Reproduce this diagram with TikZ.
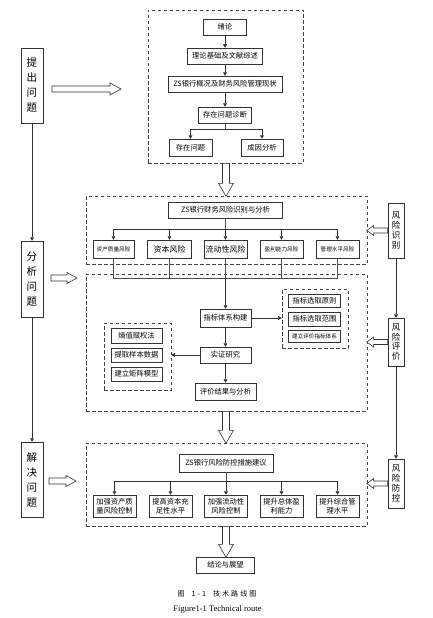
\documentclass[tikz,border=0pt]{standalone}
\usepackage{fontspec}
\newfontfamily\cjk{Noto Sans CJK SC}
\newfontfamily\capcjk[LetterSpace=30]{Noto Sans CJK SC}
\newfontfamily\capfont{Liberation Serif}
\usepackage{tikz}
\usetikzlibrary{arrows.meta, calc}

\tikzset{
  box/.style={draw=black!80, line width=0.5pt, inner sep=0pt, align=center, font=\cjk\fontsize{7.3}{9.3}\selectfont},
  tinybox/.style={box, font=\cjk\fontsize{5.6}{7}\selectfont},
  sidebox/.style={box, minimum width=22, font=\cjk\fontsize{10.5}{15}\selectfont},
  riskbox/.style={box, minimum width=16, font=\cjk\fontsize{8.5}{9.8}\selectfont},
  frame/.style={draw=black!75, dash pattern=on 3.5pt off 2.5pt, line width=0.6pt, inner sep=0pt},
  arr/.style={draw=black!80, line width=0.5pt, -{Triangle[length=3.5pt,width=3.8pt]}},
  link/.style={draw=black!70, line width=0.5pt},
  hollow/.style={draw=black!80, line width=0.6pt, fill=white}
}

% 空心箭头: 起点, 角度, 长度, 杆半宽, 头半宽, 头长
\newcommand{\blockarrow}[6]{%
  \draw[hollow, shift={(#1)}, rotate=#2]
    (0,-#4) -- ({#3-#6},-#4) -- ({#3-#6},-#5) -- (#3,0)
    -- ({#3-#6},#5) -- ({#3-#6},#4) -- (0,#4) -- cycle;}

\begin{document}
\begin{tikzpicture}[x=1pt, y=-1pt]
  \useasboundingbox (0,0) rectangle (432,618);

  % 虚线框
  \node[frame, minimum width=155, minimum height=153] (f1) at (225.5,86.5) {};
  \node[frame, minimum width=281, minimum height=68] (f2) at (226.5,230) {};
  \node[frame, minimum width=281, minimum height=137] (f3) at (226.5,342.5) {};
  \node[frame, minimum width=281, minimum height=83] (f4) at (226.5,484.5) {};

  % 左侧: 提出/分析/解决问题
  \node[sidebox, minimum height=75] (tiwen) at (32,85.5) {提\\出\\问\\题};
  \node[sidebox, minimum height=76] (fenxi) at (32,279) {分\\析\\问\\题};
  \node[sidebox, minimum height=75] (jiejue) at (32,479.5) {解\\决\\问\\题};
  \draw[arr] (tiwen.south) -- (fenxi.north);
  \draw[arr] (fenxi.south) -- (jiejue.north);

  % 右侧: 风险识别/评价/防控
  \node[riskbox, minimum height=55] (fxsb) at (396,230.5) {风\\险\\识\\别};
  \node[riskbox, minimum height=48] (fxpj) at (396,342) {风\\险\\评\\价};
  \node[riskbox, minimum height=49] (fxfk) at (396,483.5) {风\\险\\防\\控};
  \draw[arr] (fxsb.south) -- (fxpj.north);
  \draw[arr] (fxpj.south) -- (fxfk.north);

  % 第一部分
  \node[box, minimum width=43, minimum height=16] (xulun) at (225,27) {绪论};
  \node[box, minimum width=75, minimum height=16] (lilun) at (225,56) {理论基础及文献综述};
  \node[box, minimum width=114, minimum height=16] (gaikuang) at (225,84) {ZS银行概况及财务风险管理现状};
  \node[box, minimum width=53, minimum height=16] (zhenduan) at (225,115) {存在问题诊断};
  \node[box, minimum width=43, minimum height=17] (wenti) at (190.5,147.5) {存在问题};
  \node[box, minimum width=42, minimum height=17] (chengyin) at (262,147.5) {成因分析};
  \draw[arr] (xulun) -- (lilun);
  \draw[arr] (lilun) -- (gaikuang);
  \draw[arr] (gaikuang) -- (zhenduan);
  \coordinate (fork) at (225,129);
  \draw[link] (zhenduan.south) -- (fork);
  \draw[arr] (fork) -| (wenti.north);
  \draw[arr] (fork) -| (chengyin.north);

  % 第二部分: 风险识别
  \node[box, minimum width=114, minimum height=16] (shibie) at (225.5,210) {ZS银行财务风险识别与分析};
  \node[tinybox, minimum width=41, minimum height=18] (r1) at (113.5,249) {资产质量风险};
  \node[box, minimum width=44, minimum height=18, font=\cjk\fontsize{8}{9}\selectfont] (r2) at (169.5,249) {资本风险};
  \node[box, minimum width=43, minimum height=18, font=\cjk\fontsize{8}{9}\selectfont] (r3) at (225.5,249) {流动性风险};
  \node[tinybox, minimum width=43, minimum height=18] (r4) at (281.5,249) {盈利能力风险};
  \node[tinybox, minimum width=43, minimum height=18] (r5) at (337.5,249) {管理水平风险};
  \coordinate (bus1) at (225.5,229);
  \draw[link] (shibie.south) -- (bus1);
  \foreach \n in {r1,r2,r3,r4,r5}
    \draw[arr] (bus1) -| (\n.north);

  % 第三部分: 风险评价
  \coordinate (bus2) at (225.5,278);
  \foreach \n in {r1,r2,r3,r4,r5}
    \draw[link] (\n.south) |- (bus2);
  \node[box, minimum width=51, minimum height=18] (zhibiao) at (225.5,318) {指标体系构建};
  \node[box, minimum width=51, minimum height=16] (shizheng) at (225.5,355) {实证研究};
  \node[box, minimum width=61, minimum height=17] (pingjia) at (225.5,391.5) {评价结果与分析};
  \draw[arr] (bus2) -- (zhibiao.north);
  \draw[arr] (zhibiao) -- (shizheng);
  \draw[arr] (shizheng) -- (pingjia);

  \node[frame, minimum width=66, minimum height=59] (rf) at (315,318.5) {};
  \node[box, minimum width=52, minimum height=13] (yuanze) at (314.5,300.5) {指标选取原则};
  \node[box, minimum width=52, minimum height=14] (fanwei) at (314.5,319) {指标选取范围};
  \node[tinybox, minimum width=52, minimum height=12] (tixi) at (314.5,336) {建立评价指标体系};
  \draw[arr] (zhibiao.east) -- (rf.west |- zhibiao.east);

  \node[frame, minimum width=67, minimum height=67] (lf) at (137.5,356.5) {};
  \node[box, minimum width=51, minimum height=15] (shangzhi) at (136.5,335.5) {熵值赋权法};
  \node[box, minimum width=51, minimum height=14] (yangben) at (136.5,355) {提取样本数据};
  \node[box, minimum width=51, minimum height=14] (juzhen) at (136.5,374) {建立矩阵模型};
  \draw[arr] (shizheng.west) -- (lf.east |- shizheng.west);

  % 第四部分: 风险防控
  \node[box, minimum width=94, minimum height=18] (jianyi) at (226,463) {ZS银行风险防控措施建议};
  \node[box, minimum width=43, minimum height=22] (c1) at (114.5,506) {加强资产质\\量风险控制};
  \node[box, minimum width=43, minimum height=22] (c2) at (170.5,506) {提高资本充\\足性水平};
  \node[box, minimum width=43, minimum height=22] (c3) at (226,506) {加强流动性\\风险控制};
  \node[box, minimum width=43, minimum height=22] (c4) at (281.5,506) {提升总体盈\\利能力};
  \node[box, minimum width=43, minimum height=22] (c5) at (337.5,506) {提升综合管\\理水平};
  \coordinate (bus3) at (226,481);
  \draw[link] (jianyi.south) -- (bus3);
  \foreach \n in {c1,c2,c3,c4,c5}
    \draw[arr] (bus3) -| (\n.north);

  \node[box, minimum width=58, minimum height=16] (jielun) at (225.5,565) {结论与展望};

  % 空心箭头
  \coordinate (a1) at (52,89);
  \coordinate (a2) at (51,278);
  \coordinate (a3) at (49,481);
  \blockarrow{a1}{0}{69}{3}{6}{11}
  \blockarrow{a2}{0}{26}{3}{5.5}{10}
  \blockarrow{a3}{0}{27}{3}{5.5}{10}
  \blockarrow{f1.south -| 226,0}{-90}{33}{3.5}{7.5}{13}
  \blockarrow{f3.south -| 226,0}{-90}{32}{3.5}{7.5}{13}
  \blockarrow{f4.south -| 226,0}{-90}{31}{3.5}{7.5}{13}
  \blockarrow{fxsb.west}{180}{21}{2.5}{5}{7}
  \blockarrow{fxpj.west}{180}{21}{2.5}{5}{7}
  \blockarrow{fxfk.west}{180}{21}{2.5}{5}{7}

  % 图题
  \node[font=\capcjk\fontsize{7}{8}\selectfont] (cap1) at (217,594) {图\quad 1-1\quad 技术路线图};
  \node[font=\capfont\fontsize{8.5}{9}\selectfont] (cap2) at (217.5,609) {Figure1-1 Technical route};
\end{tikzpicture}
\end{document}
